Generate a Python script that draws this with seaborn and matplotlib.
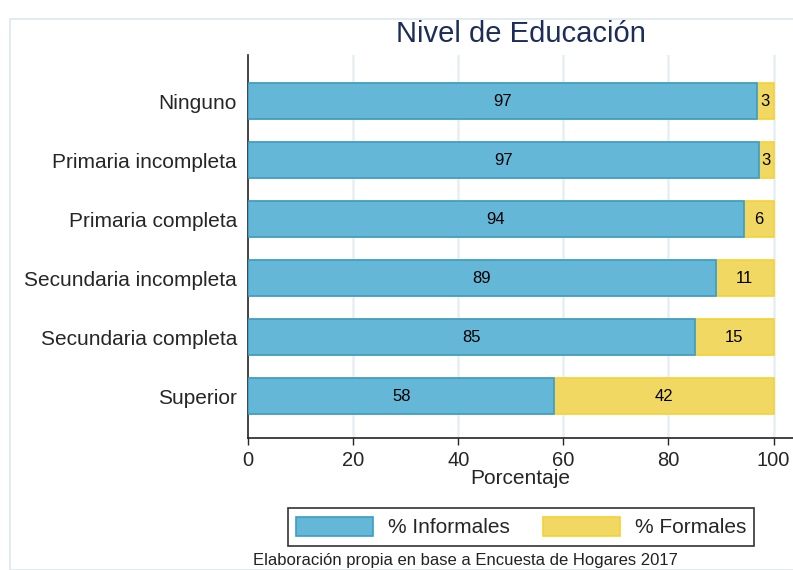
import numpy as np
import pandas as pd
import matplotlib.pyplot as plt
import seaborn as sns
from matplotlib.patches import Patch, Rectangle

# datos
categorias = ["Ninguno", "Primaria incompleta", "Primaria completa",
              "Secundaria incompleta", "Secundaria completa", "Superior"]
informales = [96.9, 97.3, 94.4, 89.0, 85.1, 58.3]
formales = [3.1, 2.7, 5.6, 11.0, 14.9, 41.7]
xticks = [0, 20, 40, 60, 80, 100]

df = pd.DataFrame({"nivel": categorias, "informales": informales, "formales": formales})
df["total"] = df["informales"] + df["formales"]

azul, azul_borde = "#65b7d7", "#3a9dc6"
amarillo, amarillo_borde = "#f0d862", "#f6d232"

sns.set_style("white")
plt.rcParams["font.family"] = ["Liberation Sans", "DejaVu Sans"]

fig = plt.figure(figsize=(7.93, 5.7), dpi=100)
ax = fig.add_axes([248 / 793, 1 - 438 / 570, (793 - 248) / 793, (438 - 55) / 570])

# marco exterior
fig.patches.append(Rectangle((10 / 793, 0), 1, 1 - 19 / 570, transform=fig.transFigure,
                             fill=False, edgecolor="#dde8ec", linewidth=1.2))

for x in xticks[1:]:
    ax.axvline(x, color="#e6eff2", linewidth=1.8, zorder=0)

sns.barplot(data=df, x="total", y="nivel", orient="h", color=amarillo, width=0.6,
            edgecolor=amarillo_borde, linewidth=1.2, saturation=1, ax=ax, zorder=2)
sns.barplot(data=df, x="informales", y="nivel", orient="h", color=azul, width=0.6,
            edgecolor=azul_borde, linewidth=1.2, saturation=1, ax=ax, zorder=3)

for i, (inf, frm) in enumerate(zip(informales, formales)):
    ax.text(inf / 2, i, f"{inf:.0f}", ha="center", va="center", fontsize=12, color="black", zorder=4)
    ax.text(inf + frm / 2, i, f"{frm:.0f}", ha="center", va="center", fontsize=12, color="black", zorder=4)

ax.set_xlim(0, (793 - 248) / 5.255)
ax.set_ylim(5.71, -0.78)
ax.set_xticks(xticks)
ax.tick_params(axis="x", labelsize=14.5, length=5, width=1, direction="out", pad=4, bottom=True)
ax.tick_params(axis="y", labelsize=15, length=0, pad=8)
ax.set_xlabel("Porcentaje", fontsize=15, labelpad=0)
ax.set_ylabel("")
for s in ["top", "right"]:
    ax.spines[s].set_visible(False)
for s in ["left", "bottom"]:
    ax.spines[s].set_color("#222222")
    ax.spines[s].set_linewidth(1.2)

fig.text(521 / 793, 1 - 34 / 570, "Nivel de Educación", ha="center", va="center",
         fontsize=21, color="#1c2d57")

handles = [Patch(facecolor=azul, edgecolor=azul_borde, linewidth=1.2, label="% Informales"),
           Patch(facecolor=amarillo, edgecolor=amarillo_borde, linewidth=1.2, label="% Formales")]
leg = fig.legend(handles=handles, ncol=2, loc="center", bbox_to_anchor=(521 / 793, 1 - 527 / 570),
                 fontsize=15, frameon=True, fancybox=False, handlelength=3.7, handleheight=1.05,
                 columnspacing=1.6, handletextpad=0.7, borderpad=0.4)
leg.get_frame().set_edgecolor("black")
leg.get_frame().set_linewidth(1.2)

fig.text(253 / 793, 1 - 561 / 570, "Elaboración propia en base a Encuesta de Hogares 2017",
         ha="left", va="center", fontsize=12, color="#222222")

fig.savefig("out.png", dpi=100)
